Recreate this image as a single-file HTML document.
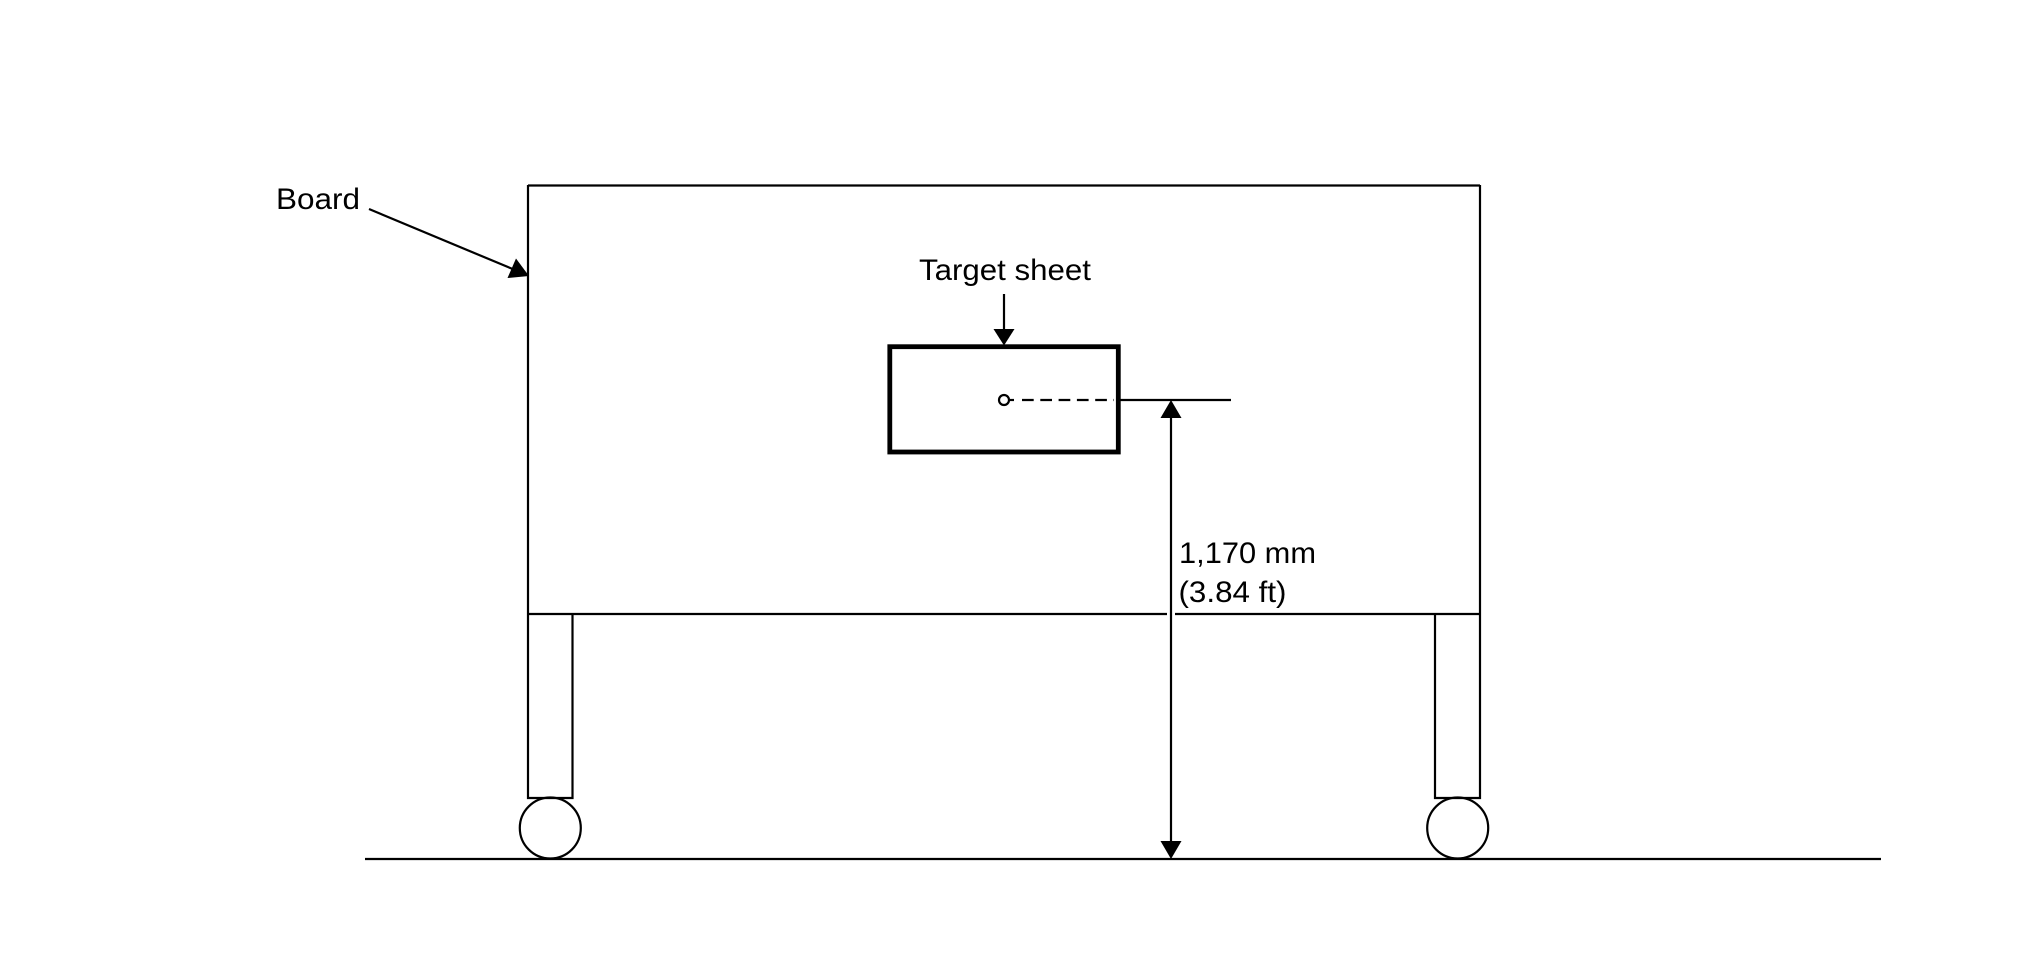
<!DOCTYPE html>
<html>
<head>
<meta charset="utf-8">
<style>
html,body{margin:0;padding:0;background:#fff;}
svg{display:block;}
text{font-family:"Liberation Sans",Arial,sans-serif;font-size:30px;fill:#000;}
</style>
</head>
<body>
<svg width="2020" height="969" viewBox="0 0 2020 969" xmlns="http://www.w3.org/2000/svg">
<rect x="0" y="0" width="2020" height="969" fill="#fff"/>
<g fill="none" stroke="#000" stroke-width="2.2">
  <!-- Board -->
  <path d="M528 185.500H1480M528 185V614M1480 185V614"/>
  <!-- Divider with gap -->
  <path d="M528 614H1167M1175 614H1480"/>
  <!-- Legs -->
  <path d="M528 614V798H572.500V614"/>
  <path d="M1435 614V798H1480V614"/>
  <!-- Wheels -->
  <circle cx="550.300" cy="828" r="30.500"/>
  <circle cx="1457.700" cy="828" r="30.500"/>
  <!-- Ground -->
  <path d="M365 859H1881"/>
  <!-- Target sheet -->
  <rect x="889.800" y="346.700" width="228.500" height="105.300" stroke-width="4.800"/>
  <!-- Centre marker -->
  <circle cx="1004" cy="400" r="5"/>
  <path d="M1009 400H1014"/>
  <path d="M1022 400H1114" stroke-dasharray="11.700 6.600"/>
  <path d="M1116 400H1231"/>
  <!-- Leaders -->
  <path d="M369 209L515 270"/>
  <path d="M1004 294V332"/>
  <path d="M1171 415V845"/>
</g>
<g fill="#000" stroke="none">
  <polygon points="529,276 507.500,278 516,258.500"/>
  <polygon points="1004,345.500 993.500,329 1014.500,329"/>
  <polygon points="1171,400 1160.500,418 1181.500,418"/>
  <polygon points="1171,859 1160.500,841 1181.500,841"/>
</g>
<text x="276" y="209" textLength="84" lengthAdjust="spacingAndGlyphs">Board</text>
<text x="919" y="280" textLength="172" lengthAdjust="spacingAndGlyphs">Target sheet</text>
<text x="1179" y="563" textLength="137" lengthAdjust="spacingAndGlyphs">1,170 mm</text>
<text x="1178.500" y="602" textLength="108" lengthAdjust="spacingAndGlyphs">(3.84 ft)</text>
</svg>
</body>
</html>
